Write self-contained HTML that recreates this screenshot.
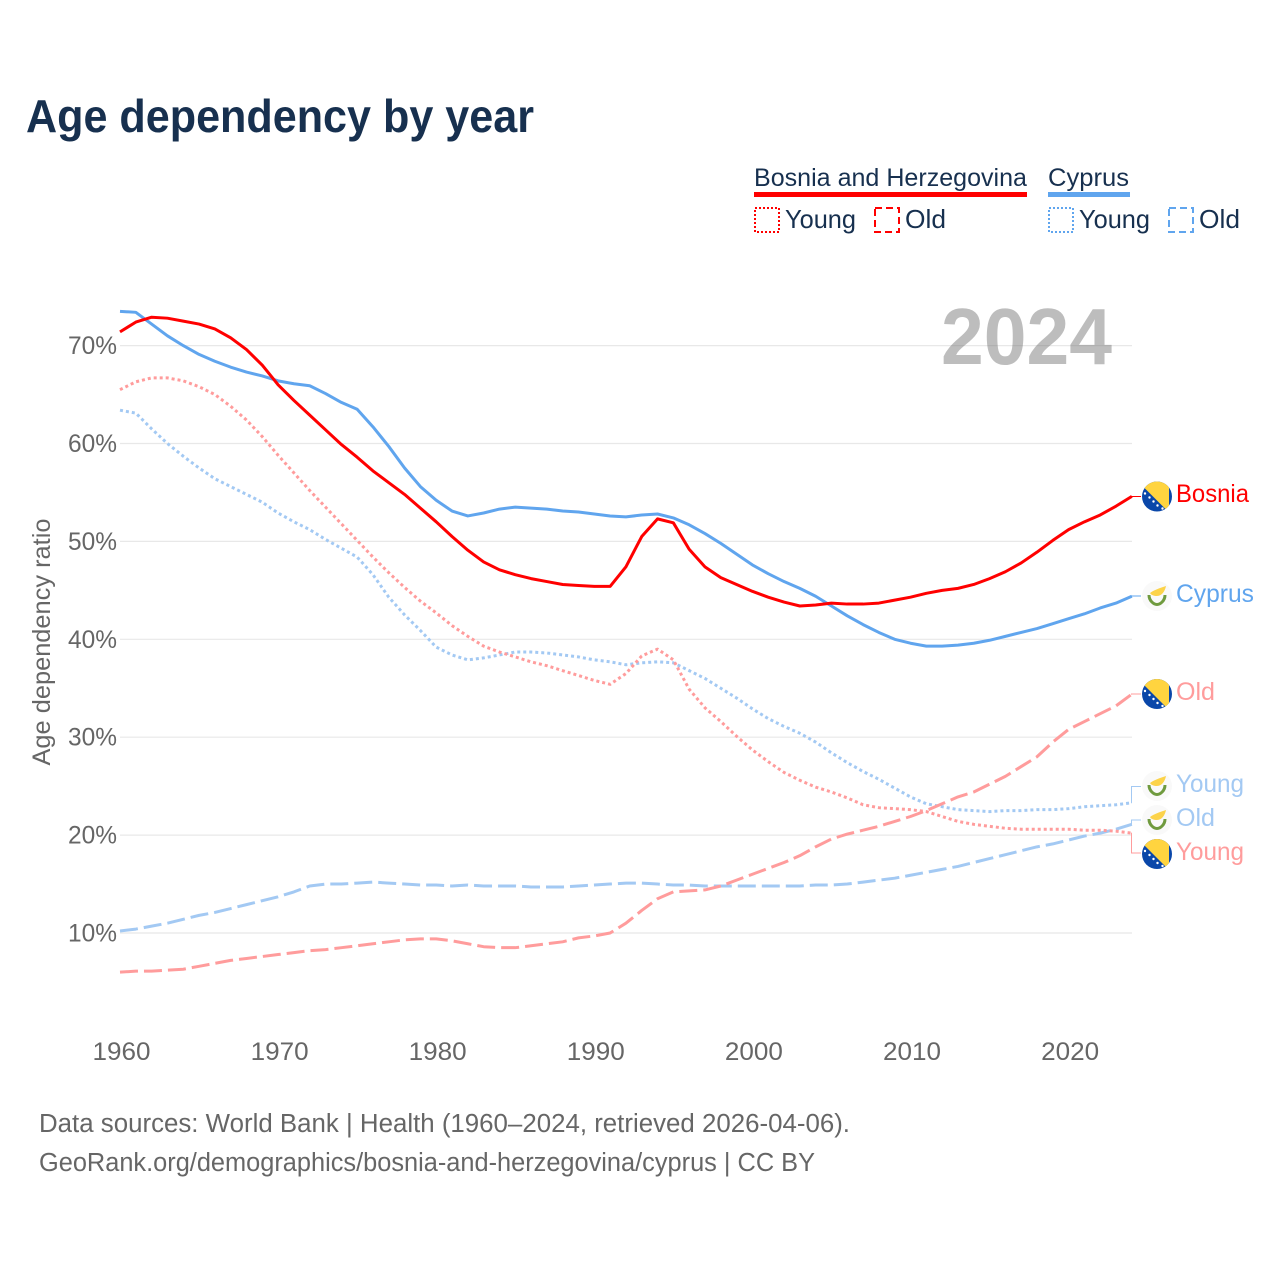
<!DOCTYPE html>
<html lang="en">
<head>
<meta charset="utf-8">
<title>Age dependency by year</title>
<style>
html,body{margin:0;padding:0;background:#fff;width:1280px;height:1280px;overflow:hidden}
svg{display:block;font-family:"Liberation Sans",sans-serif}
</style>
</head>
<body>
<svg id="chart" xmlns="http://www.w3.org/2000/svg" width="1280" height="1280" viewBox="0 0 1280 1280">
  <defs>
    <clipPath id="flag-clip"><circle cx="0" cy="0" r="15"/></clipPath>
    <g id="flag-ba" clip-path="url(#flag-clip)">
      <rect x="-15" y="-15" width="30" height="30" fill="#0a47a9"/>
      <polygon points="-19,-15 12,-15 12,16" fill="#ffd43f"/>
      <g fill="#fff"><circle cx="-12" cy="-3" r="1.2"/><circle cx="-7.5" cy="1" r="1.2"/><circle cx="-3.5" cy="5" r="1.2"/><circle cx="0.5" cy="9" r="1.2"/><circle cx="5.5" cy="12" r="1.2"/></g>
    </g>
    <g id="flag-cy" clip-path="url(#flag-clip)">
      <rect x="-15" y="-15" width="30" height="30" fill="#f9f9f9"/>
      <path d="M-7,-3 C-3,-6 3,-8 9,-10 C8,-5 5,0 0,0 C-3,0 -6,-1 -7,-3Z" fill="#fcd34a"/>
      <path d="M-8,-1 C-8,5 -3,8.5 0,8.5 C3,8.5 8,5 8,-1" fill="none" stroke="#6f9a3e" stroke-width="3"/>
    </g>
  </defs>

  <text x="26" y="132" font-size="46" font-weight="700" fill="#17304f" textLength="508" lengthAdjust="spacingAndGlyphs">Age dependency by year</text>

  <g>
    <g>
      <text x="754" y="186" font-size="25" fill="#17304f" textLength="273" lengthAdjust="spacingAndGlyphs">Bosnia and Herzegovina</text>
      <rect x="754" y="192" width="273" height="5" fill="#ff0000"/>
      <rect x="755" y="208" width="24" height="24" fill="none" stroke="#ff0000" stroke-width="2" stroke-dasharray="2 2"/>
      <text x="785" y="228" font-size="26" fill="#17304f" textLength="71" lengthAdjust="spacingAndGlyphs">Young</text>
      <rect x="875" y="208" width="24" height="24" fill="none" stroke="#ff0000" stroke-width="2" stroke-dasharray="7 4"/>
      <text x="905" y="228" font-size="26" fill="#17304f" textLength="41" lengthAdjust="spacingAndGlyphs">Old</text>
    </g>
    <g>
      <text x="1048" y="186" font-size="25" fill="#17304f" textLength="81" lengthAdjust="spacingAndGlyphs">Cyprus</text>
      <rect x="1048" y="192" width="82" height="5" fill="#60a5ee"/>
      <rect x="1049" y="208" width="24" height="24" fill="none" stroke="#60a5ee" stroke-width="2" stroke-dasharray="2 2"/>
      <text x="1079" y="228" font-size="26" fill="#17304f" textLength="71" lengthAdjust="spacingAndGlyphs">Young</text>
      <rect x="1169" y="208" width="24" height="24" fill="none" stroke="#60a5ee" stroke-width="2" stroke-dasharray="7 4"/>
      <text x="1199" y="228" font-size="26" fill="#17304f" textLength="41" lengthAdjust="spacingAndGlyphs">Old</text>
    </g>
  </g>

  <g id="grid"></g>
  <g id="yticks"></g>
  <g id="xticks"></g>

  <text transform="translate(50,642) rotate(-90)" text-anchor="middle" font-size="25" fill="#666" textLength="247" lengthAdjust="spacingAndGlyphs">Age dependency ratio</text>

  <text x="1112" y="364" text-anchor="end" font-size="80" font-weight="700" fill="#666" fill-opacity="0.43" textLength="171" lengthAdjust="spacingAndGlyphs">2024</text>

  <g id="series"></g>
  <g id="leaders"></g>

  <g>
    <use href="#flag-ba" x="1157" y="496.5"/>
    <text x="1176" y="502" font-size="25" fill="#ff0000" textLength="73" lengthAdjust="spacingAndGlyphs">Bosnia</text>
    <use href="#flag-cy" x="1157" y="596"/>
    <text x="1176" y="602" font-size="25" fill="#60a5ee" textLength="78" lengthAdjust="spacingAndGlyphs">Cyprus</text>
    <use href="#flag-ba" x="1157" y="694"/>
    <text x="1176" y="700" font-size="25" fill="#ff9c9c" textLength="39" lengthAdjust="spacingAndGlyphs">Old</text>
    <use href="#flag-cy" x="1157" y="786"/>
    <text x="1176" y="792" font-size="25" fill="#a3c9f3" textLength="68" lengthAdjust="spacingAndGlyphs">Young</text>
    <use href="#flag-cy" x="1157" y="820"/>
    <text x="1176" y="826" font-size="25" fill="#a3c9f3" textLength="39" lengthAdjust="spacingAndGlyphs">Old</text>
    <use href="#flag-ba" x="1157" y="854"/>
    <text x="1176" y="860" font-size="25" fill="#ff9c9c" textLength="68" lengthAdjust="spacingAndGlyphs">Young</text>
  </g>

  <text x="39" y="1132" font-size="25.5" fill="#666" textLength="811" lengthAdjust="spacingAndGlyphs">Data sources: World Bank | Health (1960–2024, retrieved 2026-04-06).</text>
  <text x="39" y="1171" font-size="25.5" fill="#666" textLength="776" lengthAdjust="spacingAndGlyphs">GeoRank.org/demographics/bosnia-and-herzegovina/cyprus | CC BY</text>
</svg>
<script>
const xTicks = [1960, 1970, 1980, 1990, 2000, 2010, 2020];
const yTicks = [10, 20, 30, 40, 50, 60, 70];
const startYear = 1960;

const bosniaTotal = [
  71.4,72.4,72.9,72.8,72.5,72.2,71.7,70.8,69.6,68.0,
  66.0,64.4,62.9,61.4,59.9,58.6,57.2,56.0,54.8,53.4,
  52.0,50.5,49.1,47.9,47.1,46.6,46.2,45.9,45.6,45.5,
  45.4,45.4,47.4,50.5,52.3,51.9,49.2,47.4,46.3,45.6,
  44.9,44.3,43.8,43.4,43.5,43.7,43.6,43.6,43.7,44.0,
  44.3,44.7,45.0,45.2,45.6,46.2,46.9,47.8,48.9,50.1,
  51.2,52.0,52.7,53.6,54.6];
const cyprusTotal = [
  73.5,73.4,72.2,71.0,70.0,69.1,68.4,67.8,67.3,66.9,
  66.4,66.1,65.9,65.1,64.2,63.5,61.7,59.7,57.5,55.6,
  54.2,53.1,52.6,52.9,53.3,53.5,53.4,53.3,53.1,53.0,
  52.8,52.6,52.5,52.7,52.8,52.4,51.7,50.8,49.8,48.7,
  47.6,46.7,45.9,45.2,44.4,43.4,42.4,41.5,40.7,40.0,
  39.6,39.3,39.3,39.4,39.6,39.9,40.3,40.7,41.1,41.6,
  42.1,42.6,43.2,43.7,44.4];
const bosniaYoung = [
  65.5,66.3,66.7,66.7,66.4,65.8,65.0,63.8,62.4,60.7,
  58.8,57.0,55.2,53.5,51.8,50.1,48.4,46.8,45.3,43.9,
  42.7,41.4,40.3,39.3,38.7,38.2,37.7,37.3,36.8,36.3,
  35.8,35.4,36.5,38.3,39.0,37.9,34.9,33.0,31.6,30.1,
  28.7,27.5,26.4,25.6,24.9,24.4,23.8,23.1,22.8,22.7,
  22.6,22.4,21.9,21.4,21.1,20.9,20.7,20.6,20.6,20.6,
  20.6,20.5,20.5,20.4,20.2];
const cyprusYoung = [
  63.4,63.1,61.5,60.0,58.7,57.5,56.4,55.6,54.8,54.0,
  52.9,52.0,51.2,50.2,49.3,48.4,46.6,44.3,42.5,40.9,
  39.2,38.4,37.9,38.1,38.4,38.7,38.7,38.6,38.4,38.2,
  37.9,37.7,37.4,37.6,37.7,37.6,36.8,36.0,35.0,34.0,
  32.9,31.9,31.1,30.4,29.5,28.4,27.4,26.5,25.7,24.8,
  23.9,23.2,22.9,22.6,22.5,22.4,22.5,22.5,22.6,22.6,
  22.7,22.9,23.0,23.1,23.3];
const bosniaOld = [
  6.0,6.1,6.1,6.2,6.3,6.6,6.9,7.2,7.4,7.6,
  7.8,8.0,8.2,8.3,8.5,8.7,8.9,9.1,9.3,9.4,
  9.4,9.2,8.9,8.6,8.5,8.5,8.7,8.9,9.1,9.5,
  9.7,10.0,11.0,12.3,13.5,14.2,14.3,14.4,14.8,15.4,
  16.0,16.6,17.2,17.9,18.8,19.6,20.1,20.5,20.9,21.4,
  21.9,22.5,23.2,23.9,24.4,25.2,26.0,27.0,28.0,29.5,
  30.8,31.6,32.4,33.2,34.4];
const cyprusOld = [
  10.2,10.4,10.7,11.0,11.4,11.8,12.1,12.5,12.9,13.3,
  13.7,14.2,14.8,15.0,15.0,15.1,15.2,15.1,15.0,14.9,
  14.9,14.8,14.9,14.8,14.8,14.8,14.7,14.7,14.7,14.8,
  14.9,15.0,15.1,15.1,15.0,14.9,14.9,14.8,14.8,14.8,
  14.8,14.8,14.8,14.8,14.9,14.9,15.0,15.2,15.4,15.6,
  15.9,16.2,16.5,16.8,17.2,17.6,18.0,18.4,18.8,19.1,
  19.5,19.9,20.2,20.6,21.1];

const NS = 'http://www.w3.org/2000/svg';
function xScale(year) { return 120 + (year - 1960) * 15.81; }
function yScale(v) { return 933 - (v - 10) * 9.79; }
function make(tag, attrs, parent, text) {
  const el = document.createElementNS(NS, tag);
  for (const k in attrs) el.setAttribute(k, attrs[k]);
  if (text !== undefined) el.textContent = text;
  parent.appendChild(el);
  return el;
}

const gridG = document.getElementById('grid');
const yG = document.getElementById('yticks');
const xG = document.getElementById('xticks');
yTicks.forEach(function (t) {
  const line = make('line', {x1: 120, x2: 1132, y1: yScale(t), y2: yScale(t), stroke: '#e8e8e8', 'stroke-width': 1.2}, gridG);
  
  
  const label = make('text', {x: 117, y: yScale(t) + 8.5, 'text-anchor': 'end', 'font-size': 25, fill: '#666', textLength: 49, lengthAdjust: 'spacingAndGlyphs'}, yG, t + '%');
  
  
});
xTicks.forEach(function (t) {
  const label = make('text', {x: xScale(t) + 1.5, y: 1060, 'text-anchor': 'middle', 'font-size': 25, fill: '#666', textLength: 58, lengthAdjust: 'spacingAndGlyphs'}, xG, String(t));
  
  
});

function pathFor(values) {
  return values.map(function (v, i) {
    return (i ? 'L' : 'M') + xScale(startYear + i).toFixed(2) + ' ' + yScale(v).toFixed(2);
  }).join(' ');
}
const seriesG = document.getElementById('series');
function drawLine(values, color, dash, width) {
  const attrs = {d: pathFor(values), fill: 'none', stroke: color, 'stroke-width': width, 'stroke-linejoin': 'round'};
  if (dash) attrs['stroke-dasharray'] = dash;
  return make('path', attrs, seriesG);
}
const lineCyOld = drawLine(cyprusOld, '#a3c9f3', '18 6', 3);


const lineCyYoung = drawLine(cyprusYoung, '#a3c9f3', '3 3', 3);


const lineBaOld = drawLine(bosniaOld, '#ff9c9c', '18 6', 3);


const lineBaYoung = drawLine(bosniaYoung, '#ff9c9c', '3 3', 3);


const lineCy = drawLine(cyprusTotal, '#60a5ee', '', 3);


const lineBa = drawLine(bosniaTotal, '#ff0000', '', 3);



const leadersG = document.getElementById('leaders');
function leader(values, color, targetY) {
  const y0 = yScale(values[values.length - 1]);
  const x0 = xScale(2024);
  return make('path', {d: 'M' + x0 + ' ' + y0 + ' H1131.5 V' + targetY + ' H1141', fill: 'none', stroke: color, 'stroke-width': 1}, leadersG);
}
const l1 = leader(bosniaTotal, '#ff0000', 496.5);


const l2 = leader(cyprusTotal, '#60a5ee', 596);


const l3 = leader(bosniaOld, '#ff9c9c', 694);


const l4 = leader(cyprusYoung, '#a3c9f3', 786.5);


const l5 = leader(cyprusOld, '#a3c9f3', 820);


const l6 = leader(bosniaYoung, '#ff9c9c', 853);


</script>
</body>
</html>
